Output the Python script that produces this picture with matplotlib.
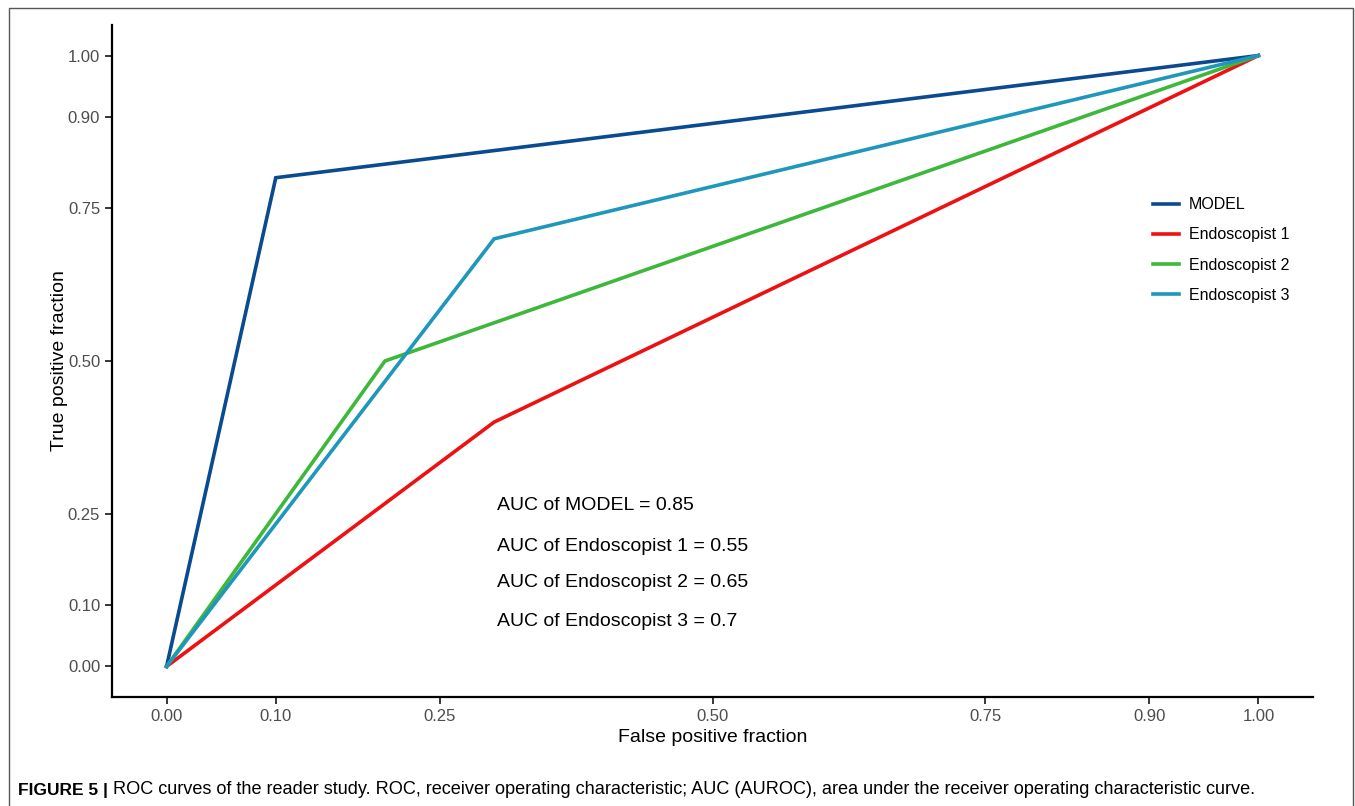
import matplotlib.pyplot as plt
from matplotlib.patches import Rectangle

plt.rcParams['font.family'] = ['Liberation Sans', 'DejaVu Sans']

# ROC points
names = ['MODEL', 'Endoscopist 1', 'Endoscopist 2', 'Endoscopist 3']
fpr = [[0, 0.1, 1], [0, 0.3, 1], [0, 0.2, 1], [0, 0.3, 1]]
tpr = [[0, 0.8, 1], [0, 0.4, 1], [0, 0.5, 1], [0, 0.7, 1]]
colors = ['#0a4a8e', '#ee1111', '#3db83a', '#1e97ba']
auc_labels = ['AUC of MODEL = 0.85', 'AUC of Endoscopist 1 = 0.55',
              'AUC of Endoscopist 2 = 0.65', 'AUC of Endoscopist 3 = 0.7']
auc_y = [0.263, 0.197, 0.137, 0.074]
ticks = [0, 0.1, 0.25, 0.5, 0.75, 0.9, 1.0]
tick_labels = ['0.00', '0.10', '0.25', '0.50', '0.75', '0.90', '1.00']

fig = plt.figure(figsize=(13.55, 8.06), dpi=100)
ax = fig.add_axes([112 / 1355, 1 - 697 / 806, 1201 / 1355, 672 / 806])

for x, y, c, n in zip(fpr, tpr, colors, names):
    ax.plot(x, y, color=c, lw=2.6, label=n, solid_joinstyle='miter', zorder=2)

ax.set_xlim(-0.05, 1.05)
ax.set_ylim(-0.05, 1.05)
ax.set_xticks(ticks)
ax.set_xticklabels(tick_labels)
ax.set_yticks(ticks)
ax.set_yticklabels(tick_labels)
ax.tick_params(labelsize=12, labelcolor='#4d4d4d', length=5, width=1.1, color='black')
for s in ['top', 'right']:
    ax.spines[s].set_visible(False)
for s in ['left', 'bottom']:
    ax.spines[s].set_linewidth(1.6)

ax.set_xlabel('False positive fraction', fontsize=14, labelpad=4)
ax.set_ylabel('True positive fraction', fontsize=14)
ax.yaxis.set_label_coords(-0.037, 0.5)

for lab, yy in zip(auc_labels, auc_y):
    ax.text(0.303, yy, lab, fontsize=14, va='center', ha='left')

ax.legend(loc='upper left', bbox_to_anchor=(0.855, 0.765), frameon=False,
          fontsize=11.5, handlelength=1.6, handletextpad=0.65, labelspacing=0.95)

# figure frame and caption
fig.patches.append(Rectangle((9 / 1355, -0.02), 1344 / 1355, 1 - 8 / 806 + 0.02,
                             transform=fig.transFigure, fill=False,
                             edgecolor='#555555', lw=1.0))
cap_y = 1 - 790 / 806
t1 = fig.text(18 / 1355, cap_y, 'FIGURE 5 |', fontsize=12.5, fontweight='bold', va='center')
fig.canvas.draw()
bb = t1.get_window_extent()
fig.text((bb.x1 + 5) / 1355, cap_y,
         'ROC curves of the reader study. ROC, receiver operating characteristic; '
         'AUC (AUROC), area under the receiver operating characteristic curve.',
         fontsize=13.1, va='center')

fig.savefig('out.png', dpi=100)
